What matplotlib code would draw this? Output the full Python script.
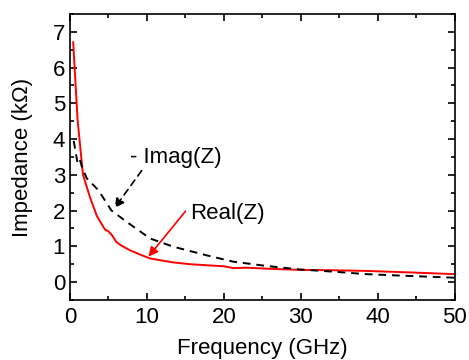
import numpy as np
import matplotlib.pyplot as plt
from matplotlib.ticker import MultipleLocator

plt.rcParams['font.family'] = ['Liberation Sans', 'DejaVu Sans']

# Real(Z), kOhm vs GHz
f_re = [0.43, 1.0, 1.7, 2.6, 3.5, 4.55, 5.0, 5.5, 6.0, 6.6, 7.8, 9.1, 10.4, 12.0, 13.4, 15.5, 17.7, 20.0, 21.2, 23.0, 26.0, 29.9, 34.0, 38.5, 44.0, 50.0]
re_z = [6.71, 4.54, 3.0, 2.38, 1.85, 1.47, 1.42, 1.3, 1.13, 1.03, 0.89, 0.77, 0.66, 0.6, 0.55, 0.5, 0.47, 0.44, 0.39, 0.40, 0.37, 0.34, 0.33, 0.31, 0.27, 0.22]

# -Imag(Z)
f_im = [0.5, 1.0, 1.3, 1.6, 2.2, 3.7, 5.4, 7.4, 10.4, 13.4, 17.7, 21.2, 25.5, 29.9, 34.2, 38.5, 42.9, 50.0]
im_z = [3.95, 3.32, 3.42, 3.2, 2.9, 2.57, 2.0, 1.68, 1.22, 0.99, 0.75, 0.57, 0.45, 0.35, 0.29, 0.22, 0.18, 0.12]

fig = plt.figure(figsize=(4.69, 3.6), dpi=100)
ax = fig.add_axes([0.149, 0.167, 0.821, 0.794])

ax.plot(f_re, re_z, color='red', lw=1.4)
ax.plot(f_im, im_z, color='black', lw=1.4, ls=(0, (4, 3)))

ax.annotate('- Imag(Z)', xy=(5.8, 2.07), xytext=(7.8, 3.49), fontsize=16,
            va='center', ha='left',
            arrowprops=dict(arrowstyle='-|>', color='black', lw=1.2, ls=(0, (4, 3)),
                            shrinkA=0, shrinkB=0, relpos=(0.15, 0.0), mutation_scale=14))
ax.annotate('Real(Z)', xy=(10.2, 0.71), xytext=(15.6, 1.93), fontsize=16,
            va='center', ha='left',
            arrowprops=dict(arrowstyle='-|>', color='red', lw=1.2,
                            shrinkA=2, shrinkB=0, relpos=(0.0, 0.85), mutation_scale=14))

ax.set_xlim(0, 50)
ax.set_ylim(-0.5, 7.5)
ax.xaxis.set_major_locator(MultipleLocator(10))
ax.xaxis.set_minor_locator(MultipleLocator(5))
ax.yaxis.set_major_locator(MultipleLocator(1))
ax.yaxis.set_minor_locator(MultipleLocator(0.5))
ax.tick_params(which='both', direction='in', top=True, right=True, labelsize=16, width=1.2)
ax.tick_params(which='major', length=5)
ax.tick_params(which='minor', length=3)
ax.tick_params(axis='x', pad=5)
for s in ax.spines.values():
    s.set_linewidth(1.2)

ax.set_xlabel('Frequency (GHz)', fontsize=16, labelpad=7)
ax.set_ylabel('Impedance (kΩ)', fontsize=16, labelpad=14)

fig.savefig('out.png', dpi=100)
